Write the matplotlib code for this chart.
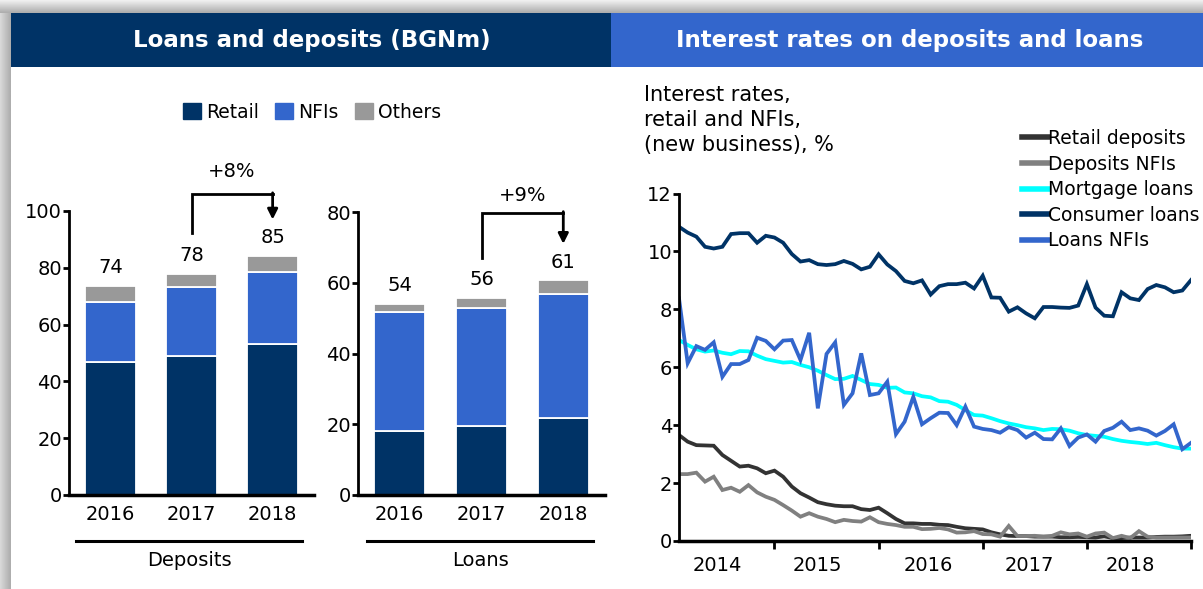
import numpy as np
import matplotlib.pyplot as plt
from matplotlib.lines import Line2D
from matplotlib.patches import Patch, Rectangle

W, H = 1203, 589

# ---- bar chart data (BGNm) ----
bar_years = ["2016", "2017", "2018"]
dep_retail = [47.0, 49.0, 53.0]
dep_nfi = [21.1, 24.2, 25.5]
dep_other = [5.6, 4.7, 5.8]
dep_labels = ["74", "78", "85"]

loan_retail = [18.2, 19.5, 21.8]
loan_nfi = [33.4, 33.4, 35.1]
loan_other = [2.5, 2.9, 3.8]
loan_labels = ["54", "56", "61"]

# ---- interest rates, monthly Feb 2014 .. Jan 2019 ----
retail_deposits = [3.66, 3.43, 3.31, 3.30, 3.29, 2.97, 2.77, 2.57, 2.60, 2.51,
                   2.34, 2.43, 2.22, 1.88, 1.65, 1.50, 1.34, 1.27, 1.22, 1.20,
                   1.20, 1.10, 1.07, 1.15, 0.96, 0.76, 0.61, 0.61, 0.59, 0.59,
                   0.56, 0.55, 0.49, 0.44, 0.42, 0.40, 0.30, 0.23, 0.18, 0.17,
                   0.17, 0.15, 0.15, 0.15, 0.13, 0.13, 0.14, 0.13, 0.12, 0.16,
                   0.10, 0.10, 0.12, 0.12, 0.12, 0.14, 0.15, 0.15, 0.16, 0.18]
deposits_nfi = [2.31, 2.31, 2.36, 2.05, 2.22, 1.76, 1.84, 1.70, 1.93, 1.68,
                1.53, 1.42, 1.24, 1.05, 0.84, 0.96, 0.84, 0.76, 0.65, 0.73,
                0.69, 0.67, 0.82, 0.65, 0.59, 0.55, 0.49, 0.49, 0.41, 0.42,
                0.45, 0.40, 0.29, 0.30, 0.34, 0.24, 0.23, 0.15, 0.52, 0.17,
                0.17, 0.18, 0.15, 0.18, 0.30, 0.23, 0.26, 0.15, 0.26, 0.29,
                0.10, 0.18, 0.10, 0.34, 0.15, 0.12, 0.12, 0.12, 0.12, 0.12]
mortgage_loans = [6.94, 6.77, 6.62, 6.54, 6.58, 6.50, 6.45, 6.56, 6.55, 6.40,
                  6.28, 6.22, 6.16, 6.18, 6.08, 6.00, 5.88, 5.73, 5.59, 5.60,
                  5.70, 5.56, 5.42, 5.39, 5.29, 5.30, 5.13, 5.10, 5.00, 4.96,
                  4.83, 4.81, 4.70, 4.52, 4.35, 4.33, 4.24, 4.14, 4.06, 4.00,
                  3.93, 3.89, 3.83, 3.87, 3.86, 3.81, 3.72, 3.66, 3.63, 3.60,
                  3.52, 3.46, 3.42, 3.39, 3.35, 3.39, 3.31, 3.24, 3.19, 3.19]
consumer_loans = [10.85, 10.65, 10.51, 10.16, 10.10, 10.16, 10.60, 10.63, 10.63, 10.30,
                  10.54, 10.48, 10.30, 9.91, 9.65, 9.70, 9.56, 9.53, 9.56, 9.67,
                  9.57, 9.38, 9.47, 9.90, 9.55, 9.32, 8.98, 8.90, 9.00, 8.51,
                  8.80, 8.87, 8.87, 8.92, 8.72, 9.16, 8.41, 8.40, 7.92, 8.07,
                  7.86, 7.69, 8.08, 8.08, 8.06, 8.05, 8.13, 8.87, 8.06, 7.78,
                  7.76, 8.59, 8.38, 8.32, 8.70, 8.84, 8.76, 8.59, 8.65, 9.01]
loans_nfi = [8.38, 6.14, 6.73, 6.60, 6.86, 5.67, 6.11, 6.11, 6.25, 7.02,
             6.91, 6.62, 6.92, 6.94, 6.25, 7.19, 4.58, 6.46, 6.86, 4.70,
             5.10, 6.48, 5.04, 5.10, 5.50, 3.69, 4.12, 4.98, 4.03, 4.24,
             4.43, 4.42, 4.00, 4.64, 3.95, 3.87, 3.83, 3.74, 3.93, 3.83,
             3.57, 3.74, 3.52, 3.51, 3.89, 3.28, 3.57, 3.68, 3.43, 3.80,
             3.91, 4.12, 3.83, 3.89, 3.81, 3.64, 3.80, 4.03, 3.17, 3.39]
rate_years = ["2014", "2015", "2016", "2017", "2018"]

NAVY = "#003366"
BLUE = "#3366CC"
GREY = "#999999"

plt.rcParams["font.family"] = "DejaVu Sans"

fig = plt.figure(figsize=(W / 100, H / 100), dpi=100, facecolor="white")


def px_axes(left, top, right, bottom, **kw):
    # axes placed by pixel box (origin top-left)
    return fig.add_axes([left / W, 1 - bottom / H, (right - left) / W, (bottom - top) / H], **kw)


# background layer in pixel coordinates
bg = fig.add_axes([0, 0, 1, 1], zorder=-10)
bg.axis("off")

# drop shadow frame on top/left
top_grad = np.linspace(0.94, 0.68, 13).reshape(-1, 1)
bg.imshow(np.repeat(top_grad, 2, axis=1), cmap="gray", vmin=0, vmax=1,
          extent=(0, W, 13, 0), aspect="auto", interpolation="bilinear")
left_grad = np.linspace(0.85, 0.68, 11).reshape(1, -1)
bg.imshow(np.repeat(left_grad, 2, axis=0), cmap="gray", vmin=0, vmax=1,
          extent=(0, 11, H, 13), aspect="auto", interpolation="bilinear")
bg.set_xlim(0, W)
bg.set_ylim(H, 0)

# panel headers
bg.add_patch(Rectangle((11, 13), 600, 54, color=NAVY, lw=0))
bg.add_patch(Rectangle((611, 13), W - 611, 54, color=BLUE, lw=0))
bg.text(312, 41, "Loans and deposits (BGNm)", color="white", fontsize=16.5,
        fontweight="bold", ha="center", va="center")
bg.text(910, 41, "Interest rates on deposits and loans", color="white", fontsize=16.5,
        fontweight="bold", ha="center", va="center")


def stacked_bars(ax, retail, nfi, other, labels, ymax, step):
    x = np.arange(len(bar_years))
    r = np.array(retail)
    n = np.array(nfi)
    o = np.array(other)
    kw = dict(width=0.63, edgecolor="white", linewidth=1.3)
    ax.bar(x, r, color=NAVY, **kw)
    ax.bar(x, n, bottom=r, color=BLUE, **kw)
    ax.bar(x, o, bottom=r + n, color=GREY, **kw)
    for xi, tot, lab in zip(x, r + n + o, labels):
        ax.annotate(lab, (xi, tot), xytext=(0, 13), textcoords="offset points",
                    ha="center", va="center", fontsize=14)
    ax.set_xlim(-0.51, 2.51)
    ax.set_ylim(0, ymax)
    ax.set_yticks(np.arange(0, ymax + 1, step))
    ax.set_xticks(x)
    ax.set_xticklabels(bar_years)
    for s in ("top", "right"):
        ax.spines[s].set_visible(False)
    ax.spines["left"].set_linewidth(2)
    ax.spines["bottom"].set_linewidth(2.5)
    ax.tick_params(axis="y", labelsize=14, width=2, length=4, pad=1)
    ax.tick_params(axis="x", labelsize=14, length=0, pad=7)
    ax.set_facecolor("none")


def growth_bracket(ax, y0, ytop, ytip, ytext, label):
    ax.plot([1, 1, 2], [y0, ytop, ytop], color="black", lw=2, clip_on=False,
            solid_joinstyle="miter")
    ax.annotate("", xy=(2, ytip), xytext=(2, ytop + 0.4), annotation_clip=False,
                arrowprops=dict(arrowstyle="-|>", color="black", lw=2,
                                mutation_scale=15, shrinkA=0, shrinkB=0))
    ax.text(1.5, ytext, label, ha="center", va="center", fontsize=14, clip_on=False)


ax_dep = px_axes(69, 211, 314, 495)
stacked_bars(ax_dep, dep_retail, dep_nfi, dep_other, dep_labels, 100, 20)
growth_bracket(ax_dep, 92.2, 106.0, 97.0, 113.8, "+8%")

ax_loan = px_axes(358, 212, 605, 495)
stacked_bars(ax_loan, loan_retail, loan_nfi, loan_other, loan_labels, 80, 20)
growth_bracket(ax_loan, 67.0, 79.7, 71.0, 84.7, "+9%")

# group underline + names
bg.plot([76, 302], [541, 541], color="black", lw=2.2)
bg.plot([367, 593], [541, 541], color="black", lw=2.2)
bg.text(189, 561, "Deposits", ha="center", va="center", fontsize=14)
bg.text(480, 561, "Loans", ha="center", va="center", fontsize=14)

bar_handles = [Patch(color=NAVY, label="Retail"), Patch(color=BLUE, label="NFIs"),
               Patch(color=GREY, label="Others")]
fig.legend(handles=bar_handles, loc="center", bbox_to_anchor=(312 / W, 1 - 112 / H),
           ncol=3, frameon=False, fontsize=13.5, handlelength=0.95, handleheight=0.95,
           handletextpad=0.25, columnspacing=0.9, borderaxespad=0)

# ---- interest rate lines ----
ax_r = px_axes(679, 193.5, 1191, 541)
t = np.arange(len(consumer_loans))
series = [
    (retail_deposits, "#333333", "Retail deposits"),
    (deposits_nfi, "#808080", "Deposits NFIs"),
    (mortgage_loans, "#00FFFF", "Mortgage loans"),
    (consumer_loans, NAVY, "Consumer loans"),
    (loans_nfi, BLUE, "Loans NFIs"),
]
for vals, col, lab in series:
    ax_r.plot(t, vals, color=col, lw=2.7, label=lab, solid_joinstyle="miter")

ax_r.set_xlim(0, len(t) - 1)
ax_r.set_ylim(0, 12)
ax_r.set_yticks(np.arange(0, 13, 2))
ax_r.set_xticks([11, 23, 35, 47, 59])
ax_r.set_xticklabels([])
ax_r.set_xticks([4.4, 16.0, 28.7, 40.4, 52.0], minor=True)
ax_r.set_xticklabels(rate_years, minor=True)
ax_r.tick_params(axis="x", which="major", width=2, length=6, direction="out")
ax_r.tick_params(axis="x", which="minor", length=0, labelsize=14, pad=11)
ax_r.tick_params(axis="y", labelsize=14, width=2, length=4, pad=1)
for s in ("top", "right"):
    ax_r.spines[s].set_visible(False)
ax_r.spines["left"].set_linewidth(2)
ax_r.spines["bottom"].set_linewidth(2.5)
ax_r.set_facecolor("none")

bg.text(644, 85, "Interest rates,\nretail and NFIs,\n(new business), %",
        ha="left", va="top", fontsize=15, linespacing=1.3)

line_handles = [Line2D([], [], color=c, lw=4, label=l) for _, c, l in series]
fig.legend(handles=line_handles, loc="upper left", bbox_to_anchor=(1022 / W, 1 - 129 / H),
           frameon=False, fontsize=13.5, handlelength=1.4, handletextpad=0.0,
           labelspacing=0.35, borderaxespad=0, borderpad=0)

fig.savefig("out.png", dpi=100, facecolor="white")
